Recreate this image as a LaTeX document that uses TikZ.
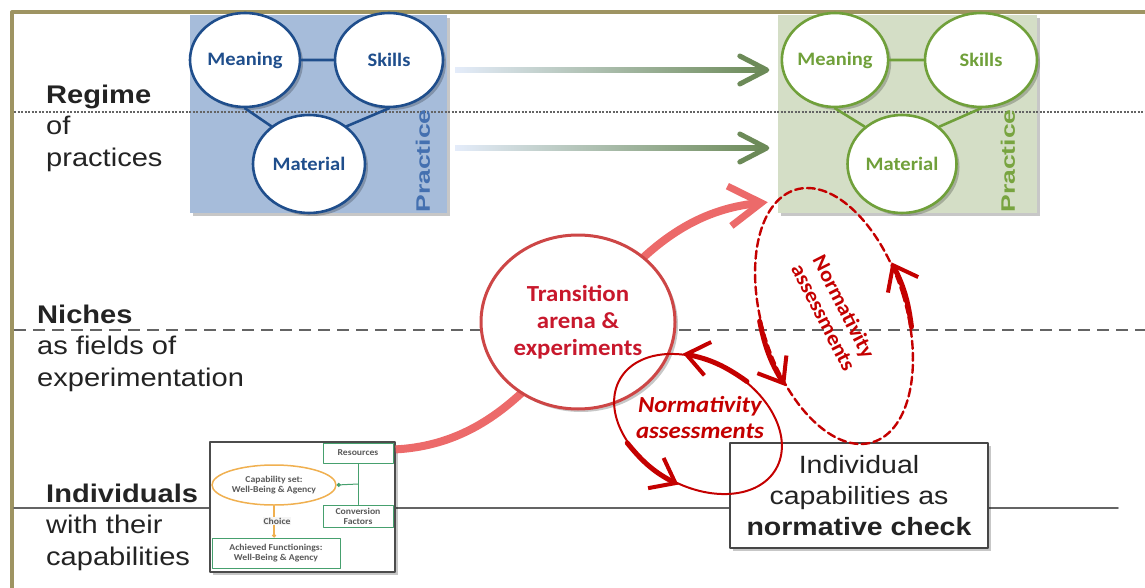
\documentclass[tikz,border=0pt]{standalone}
\usepackage{fontspec}
\setmainfont[FakeStretch=1.14]{Liberation Sans}
\newfontfamily\calfont[FakeStretch=1.08]{Carlito}
\newfontfamily\rotfont[FakeStretch=1.36]{Liberation Sans}
\usetikzlibrary{positioning,calc,arrows.meta,shapes.geometric,shadows}

\definecolor{framecol}{RGB}{158,148,98}
\definecolor{blueboxfill}{RGB}{166,188,218}
\definecolor{blueline}{RGB}{31,78,140}
\definecolor{bluetext}{RGB}{68,112,176}
\definecolor{greenboxfill}{RGB}{212,222,198}
\definecolor{greenline}{RGB}{112,160,58}
\definecolor{greentext}{RGB}{120,164,64}
\definecolor{shaftlight}{RGB}{228,236,250}
\definecolor{arrowgreen}{RGB}{108,138,88}
\definecolor{salmon}{RGB}{236,106,106}
\definecolor{transline}{RGB}{205,70,70}
\definecolor{transtext}{RGB}{200,24,44}
\definecolor{normred}{RGB}{196,0,0}
\definecolor{rulegray}{RGB}{100,100,100}
\definecolor{capgreen}{RGB}{70,160,110}
\definecolor{caporange}{RGB}{240,176,80}
\definecolor{labeltext}{RGB}{35,35,35}

\tikzset{
  softshadow/.style={drop shadow={shadow xshift=3pt,shadow yshift=-3pt,opacity=0.22,fill=black}},
  practbox/.style={rectangle, inner sep=0pt, minimum height=198pt, softshadow},
  pcirc/.style={ellipse, fill=white, line width=2.6pt, inner sep=0pt, softshadow,
    font=\calfont\bfseries\fontsize{19}{22}\selectfont},
  plink/.style={line width=2.6pt},
  practlbl/.style={rotate=90, inner sep=0pt, font=\rotfont\bfseries\fontsize{19.5}{20}\selectfont},
  lvl/.style={anchor=north west, inner sep=0pt, align=left, text=labeltext,
    font=\fontsize{25.5}{31.5}\selectfont},
  capframe/.style={draw=gray!60!black, fill=white, line width=1.2pt, inner sep=0pt,
    minimum width=185pt, minimum height=130pt, softshadow},
  capsq/.style={draw=capgreen, fill=white, line width=1pt, inner sep=1pt, align=center,
    text=gray!70!black, font=\calfont\bfseries\fontsize{9}{10}\selectfont},
  normbox/.style={draw=gray!55!black, fill=white, line width=1.2pt, inner sep=0pt,
    minimum width=258pt, minimum height=105pt, align=center, text=labeltext, softshadow,
    font=\fontsize{25}{31}\selectfont},
  trans/.style={ellipse, draw=transline, fill=white, line width=3pt, inner sep=0pt,
    minimum width=194pt, minimum height=174pt, align=center, text=transtext, softshadow,
    font=\calfont\bfseries\fontsize{23}{27}\selectfont},
  normring/.style={ellipse, draw=normred, inner sep=0pt},
  normtxt/.style={align=center, text=normred, inner sep=0pt,
    font=\calfont\bfseries\itshape\fontsize{23}{26}\selectfont},
  normarrow/.style={draw=normred, line width=5pt,
    -{Straight Barb[length=22pt,width=34pt,line width=4pt]}},
  bigarrow/.style={draw=salmon, line width=8pt, line cap=butt,
    -{Straight Barb[length=32pt,width=40pt,line width=7pt]}}
}

\begin{document}
\begin{tikzpicture}[x=1pt,y=-1pt, line cap=round, line join=round, >=Stealth]
\useasboundingbox (0,0) rectangle (1145,588);

% ---- frame (left + top only)
\draw[framecol, line width=4pt, line cap=butt] (12,588) -- (12,12) -- (1145,12);

% ---- practice boxes
\node[practbox, fill=blueboxfill, minimum width=257pt] (bluebox) at (318.5,114) {};
\node[practbox, fill=greenboxfill, minimum width=259pt] (greenbox) at (907.5,114) {};

% ---- level rules
\draw[rulegray, line width=1.6pt, line cap=butt, dash pattern=on 2pt off 1.5pt] (14,112) -- (1145,112);
\draw[rulegray, line width=1.6pt, line cap=butt, dash pattern=on 12pt off 7pt] (14,330) -- (1145,330);
\draw[rulegray, line width=1.6pt] (14,508) -- (1118,508);

% ---- practice triangles (blue = today, green = tomorrow)
\node[pcirc, draw=blueline, text=blueline, minimum width=110pt, minimum height=94pt] (bmean) at (245,60) {Meaning};
\node[pcirc, draw=blueline, text=blueline, minimum width=108pt, minimum height=94pt] (bskill) at (389,60) {Skills};
\node[pcirc, draw=blueline, text=blueline, minimum width=112pt, minimum height=98pt] (bmat) at (309,164) {Material};
\draw[plink, blueline] (bmean) -- (bskill) (bmean.south) -- (bmat.135) (bskill.south) -- (bmat.45);

\node[pcirc, draw=greenline, text=greenline, minimum width=106pt, minimum height=94pt] (gmean) at (835,60) {Meaning};
\node[pcirc, draw=greenline, text=greenline, minimum width=112pt, minimum height=94pt] (gskill) at (981,60) {Skills};
\node[pcirc, draw=greenline, text=greenline, minimum width=109pt, minimum height=98pt] (gmat) at (902,164) {Material};
\draw[plink, greenline] (gmean) -- (gskill) (gmean.south) -- (gmat.135) (gskill.south) -- (gmat.45);

\node[practlbl, text=bluetext] (bpract) at (423,161) {Practice};
\node[practlbl, text=greentext] (gpract) at (1008,161) {Practice};

% ---- shaded arrows blue box -> green box
\foreach \yy/\nm in {70/up,148/lo}{
  \coordinate (\nm S) at (bluebox.east |- 0,\yy);
  \coordinate (\nm E) at (greenbox.west |- 0,\yy);
  \shade[left color=shaftlight, right color=arrowgreen]
    ($(\nm S)+(8,-2.5)$) rectangle ($(\nm E)+(-14,2.5)$);
  \draw[arrowgreen, line width=5pt] ($(\nm E)+(-38,-14)$) -- ($(\nm E)+(-11,0)$) -- ($(\nm E)+(-38,14)$);
}

% ---- level labels
\node[lvl] (regime) at (46,84.5) {\textbf{Regime}\\of\\practices};
\node[lvl] (niches) at (37,304.5) {\textbf{Niches}\\as fields of\\experimentation};
\node[lvl] (indiv) at (46,483.5) {\textbf{Individuals}\\with their\\capabilities};

% ---- capability approach sketch
\node[capframe] (capbox) at (302.5,507) {};
\node[capsq, minimum width=70pt, minimum height=20pt] (res) at (358,453) {Resources};
\node[capsq, minimum width=70pt, minimum height=22pt] (conv) at (358,516) {Conversion\\Factors};
\node[capsq, ellipse, draw=caporange, line width=1.5pt, minimum width=124pt, minimum height=40pt] (capset) at (274,485) {Capability set:\\Well-Being \& Agency};
\node[capsq, minimum width=128pt, minimum height=30pt] (achieved) at (276,553) {Achieved Functionings:\\Well-Being \& Agency};
\coordinate (junc) at ($(res.south)!0.5!(conv.north)$);
\draw[capgreen, line width=1pt] (res) -- (conv);
\draw[capgreen, line width=1pt, {Circle[length=4pt]}-] (capset.east) -- (junc);
\draw[caporange, line width=1.2pt, -{Circle[length=4pt]}] (capset.south) -- (capset.south |- achieved.north);
\node[capsq, draw=none, fill=gray!8] (choice) at (277,521) {Choice};

% ---- normative check box
\node[normbox] (normbox) at (859,495.5) {Individual\\capabilities as\\\textbf{normative check}};

% ---- transition arena with the big arrow behind it
\coordinate (bigS) at ($(capbox.north east)+(0,8)$);
\coordinate (bigE) at ($(greenbox.south west)+(-10,-11)$);
\draw[bigarrow] (bigS) .. controls (570,440) and (590,220) .. (bigE);
\node[trans] (trans) at (578,322) {Transition\\arena \&\\experiments};

% ---- normativity loops
\node[normring, line width=2pt, minimum width=180pt, minimum height=124pt, rotate=-30] (normsmall) at (698,424) {};
\node[normring, line width=2.4pt, dash pattern=on 8pt off 4pt, minimum width=144pt, minimum height=264pt, rotate=17] (normbig) at (834,316) {};
\node[normtxt] (normsmalltxt) at (700,418) {Normativity\\assessments};
\node[normtxt, rotate=-63, font=\calfont\bfseries\fontsize{21}{23}\selectfont] (normbigtxt) at (834,312) {Normativity\\assessments};

\draw[normarrow] (normbig.335) to[bend right=10] (normbig.26);
\draw[normarrow] (normbig.167) to[bend right=10] (normbig.218);
\draw[normarrow] (normsmall.71) to[bend right=12] (normsmall.132);
\draw[normarrow] (normsmall.225) to[bend right=12] (normsmall.282);

\end{tikzpicture}
\end{document}
